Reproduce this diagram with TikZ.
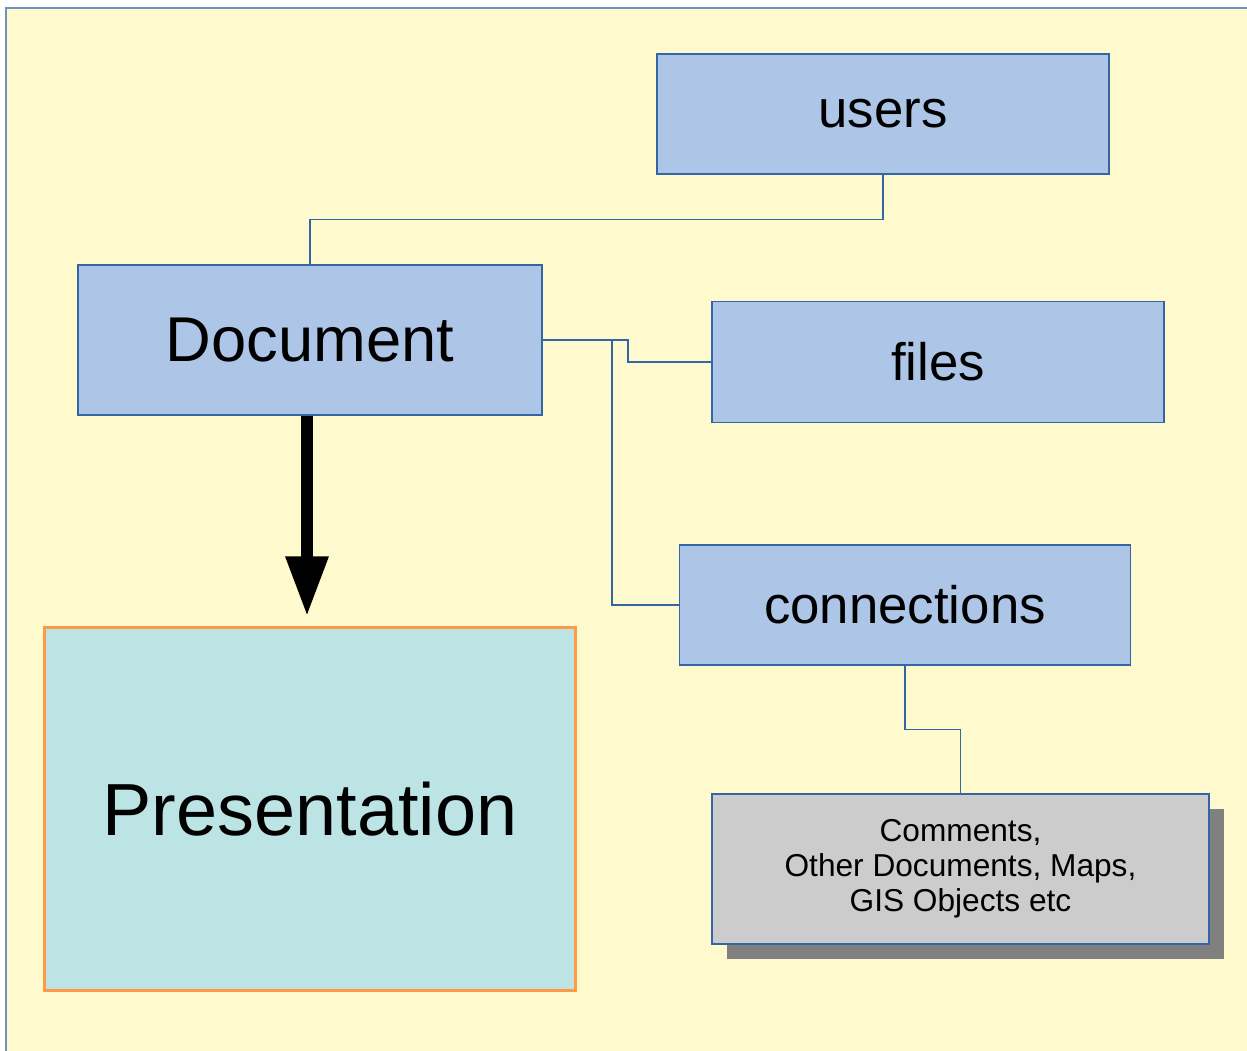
\documentclass[tikz,border=0pt]{standalone}
\usepackage{fontspec}
\setmainfont{Liberation Sans}
\usetikzlibrary{arrows.meta,shapes,positioning,shadows}

\definecolor{bgyellow}{RGB}{255,250,205}
\definecolor{bgline}{RGB}{114,145,189}
\definecolor{boxblue}{RGB}{173,197,231}
\definecolor{lineblue}{RGB}{52,101,164}
\definecolor{prescyan}{RGB}{188,228,229}
\definecolor{presorange}{RGB}{255,153,68}
\definecolor{commgray}{RGB}{204,204,204}
\definecolor{shadowgray}{RGB}{128,128,128}

\tikzset{
  bluebox/.style={draw=lineblue, line width=0.4pt, fill=boxblue,
    minimum width=4.52cm, minimum height=1.2cm, inner sep=0pt},
  link/.style={draw=lineblue, line width=0.4pt},
}

\begin{document}
\begin{tikzpicture}[x=0.01cm, y=-0.01cm]
            % page and yellow background
            \useasboundingbox (0,0) rectangle (1247,1051);
            \fill[bgyellow] (6,8) rectangle (1247,1051);
            \draw[bgline, line width=0.6pt] (6,1051) -- (6,8) -- (1247,8);

            % the boxes
            \node[bluebox, font=\fontsize{15}{18}\selectfont] (users) at (883,114) {users};
            \node[bluebox, minimum width=4.64cm, minimum height=1.5cm,
                font=\fontsize{18}{21}\selectfont] (doc) at (310,340) {Document};
            \node[bluebox, minimum height=1.21cm, font=\fontsize{15}{18}\selectfont]
                (files) at (938,362) {files};
            \node[bluebox, minimum width=4.51cm, font=\fontsize{15}{18}\selectfont]
                (conn) at (905,605) {connections};
            \node[draw=presorange, line width=0.8pt, fill=prescyan, minimum width=5.3cm,
                minimum height=3.62cm, inner sep=0pt, font=\fontsize{21}{25}\selectfont]
                (pres) at (310,809) {Presentation};
            \node[draw=lineblue, line width=0.4pt, fill=commgray, minimum width=4.97cm,
                minimum height=1.5cm, inner sep=0pt, align=center,
                font=\fontsize{9}{10}\selectfont,
                drop shadow={shadow xshift=0.15cm, shadow yshift=-0.15cm, fill=shadowgray, opacity=1}]
                (comm) at (960.5,869)
                {Comments,\\Other Documents, Maps,\\GIS Objects etc};

            % connectors
            \draw[link] (users.south) -- ++(0,45) -| (doc.north);
            \draw[link] (doc.east) -- ++(85,0) |- (files.west);
            \draw[link] (doc.east) -- ++(69,0) |- (conn.west);
            \draw[link] (conn.south) -- ++(0,64) -| (comm.north);

            % big arrow down to the presentation
            \draw[line width=3.4pt, -{Triangle[width=0.4cm, length=0.6cm]}, shorten >=0.1cm]
                ([xshift=-0.03cm]doc.south) -- ([xshift=-0.03cm]pres.north);
        \end{tikzpicture}
\end{document}
